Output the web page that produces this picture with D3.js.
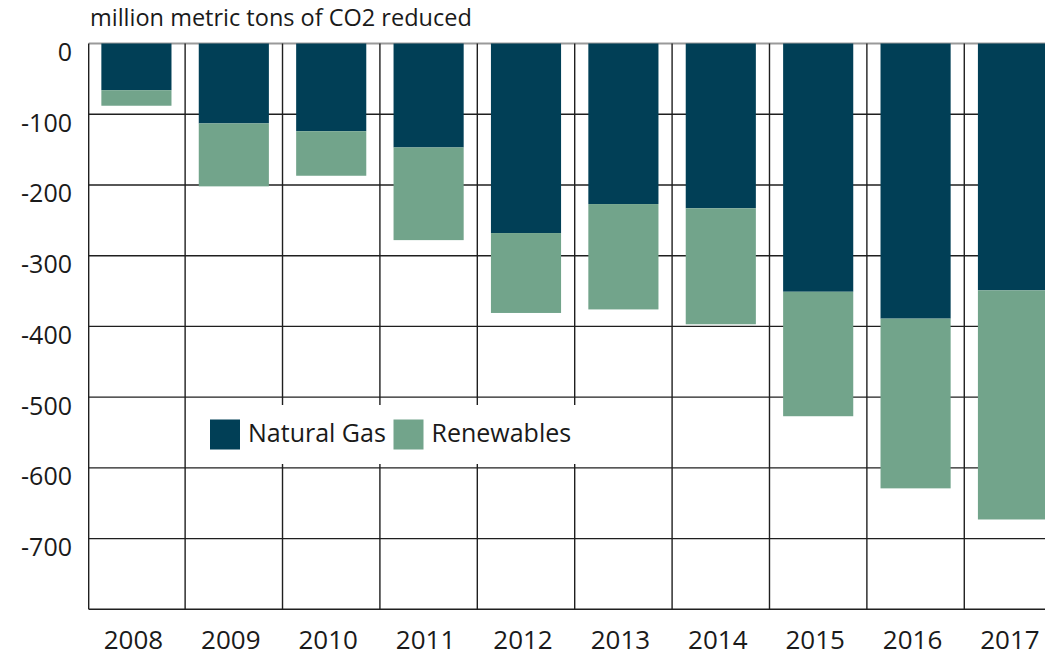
<!DOCTYPE html>
<html>
<head>
<meta charset="utf-8">
<script src="https://cdn.jsdelivr.net/npm/d3@7"></script>
<style>
  body { margin: 0; background: #fff; }
  text { font-family: "Open Sans", sans-serif; fill: #1a1a1a; }
</style>
</head>
<body>
<div class="chart_area"></div>
<script>
// values (million metric tons of CO2 reduced)
var years = ["2008", "2009", "2010", "2011", "2012", "2013", "2014", "2015", "2016", "2017"];
var naturalGas = [-66, -113, -124, -147, -268, -227, -233, -351, -389, -349];
var renewables = [-22, -89, -63, -131, -113, -149, -164, -176, -240, -324];
var yTicks = [0, -100, -200, -300, -400, -500, -600, -700];
var seriesNames = ["Natural Gas", "Renewables"];
var colors = ["#013f56", "#72a48b"];

var width = 1045, height = 657;
var left = 88.7, top_y = 43.5, bottom_y = 609.3;

var svg = d3.select(".chart_area")
  .append("svg")
  .attr("width", width)
  .attr("height", height);

var y = d3.scaleLinear()
    .domain([0, -800])
    .range([top_y, bottom_y]);

var x = d3.scaleBand()
    .domain(years)
    .range([left, left + 972])
    .paddingInner(0.28)
    .paddingOuter(0.13);

var half = x.step() * x.paddingInner() / 2;

// horizontal grid
svg.append("g")
  .selectAll("line")
  .data(yTicks.concat([-800]))
  .enter()
  .append("line")
    .attr("x1", left)
    .attr("x2", width)
    .attr("y1", function(d) { return y(d); })
    .attr("y2", function(d) { return y(d); })
    .style("stroke", function(d) { return d === 0 ? "#9a9a9a" : "#1f1f1f"; })
    .style("stroke-width", function(d) { return d === 0 ? 2 : 1.4; });

// vertical grid (band edges)
var edges = [left].concat(years.slice(1).map(function(d) { return x(d) - half; }));
svg.append("g")
  .selectAll("line")
  .data(edges)
  .enter()
  .append("line")
    .attr("x1", function(d) { return d; })
    .attr("x2", function(d) { return d; })
    .attr("y1", top_y)
    .attr("y2", bottom_y)
    .style("stroke", "#1f1f1f")
    .style("stroke-width", 1.4);

// stacked bars
var rows = years.map(function(d, i) { return { year: d, ng: naturalGas[i], re: renewables[i] }; });

var bars = svg.append("g");
bars.selectAll("rect.ng")
  .data(rows)
  .enter()
  .append("rect")
    .attr("class", "ng")
    .attr("x", function(d) { return x(d.year); })
    .attr("width", x.bandwidth())
    .attr("y", y(0))
    .attr("height", function(d) { return y(d.ng) - y(0); })
    .style("fill", colors[0]);

bars.selectAll("rect.re")
  .data(rows)
  .enter()
  .append("rect")
    .attr("class", "re")
    .attr("x", function(d) { return x(d.year); })
    .attr("width", x.bandwidth())
    .attr("y", function(d) { return y(d.ng); })
    .attr("height", function(d) { return y(d.ng + d.re) - y(d.ng); })
    .style("fill", colors[1]);

// y tick labels
svg.append("g")
  .selectAll("text")
  .data(yTicks)
  .enter()
  .append("text")
    .attr("x", 72)
    .attr("y", function(d) { return y(d) + 17.5; })
    .attr("text-anchor", "end")
    .style("font-size", "25px")
    .text(function(d) { return d3.format("d")(d).replace("−", "-"); });

// year labels
svg.append("g")
  .selectAll("text")
  .data(years)
  .enter()
  .append("text")
    .attr("x", function(d) { return x(d) + x.bandwidth() / 2 - 3; })
    .attr("y", 649)
    .attr("text-anchor", "middle")
    .style("font-size", "26px")
    .text(function(d) { return d; });

// title
svg.append("text")
  .attr("x", 90)
  .attr("y", 26)
  .style("font-size", "23.5px")
  .text("million metric tons of CO2 reduced");

// legend
var legend = svg.append("g");
legend.append("rect")
  .attr("x", 190)
  .attr("y", 405)
  .attr("width", 410)
  .attr("height", 59)
  .style("fill", "#fff");

var legendX = [210, 393.5];
var items = legend.selectAll("g.item")
  .data(seriesNames)
  .enter()
  .append("g")
    .attr("class", "item")
    .attr("transform", function(d, i) { return "translate(" + legendX[i] + ",419.5)"; });

items.append("rect")
  .attr("width", 30)
  .attr("height", 30)
  .style("fill", function(d, i) { return colors[i]; });

items.append("text")
  .attr("x", 38)
  .attr("y", 22.5)
  .style("font-size", "25px")
  .text(function(d) { return d; });
</script>
</body>
</html>
